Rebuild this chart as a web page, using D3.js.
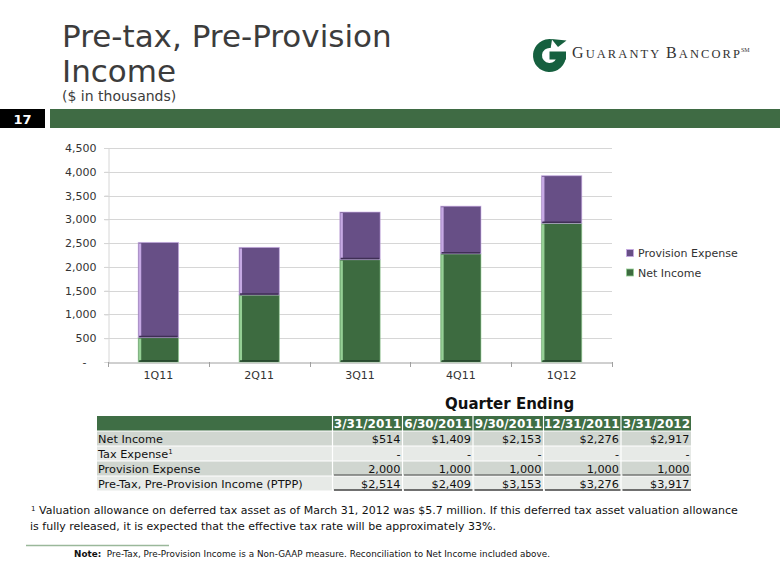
<!DOCTYPE html>
<html>
<head>
<meta charset="utf-8">
<script src="https://cdn.jsdelivr.net/npm/d3@7"></script>
<style>
  html, body { margin: 0; padding: 0; background: #fff; }
  svg { display: block; }
  text { font-family: "DejaVu Sans", Verdana, sans-serif; }
</style>
</head>
<body>
<svg id="chart" width="780" height="585"></svg>
<script>
// ---------------- DATA ----------------
const quarters = ["1Q11", "2Q11", "3Q11", "4Q11", "1Q12"];
const netIncome = [514, 1409, 2153, 2276, 2917];
const provisionExpense = [2000, 1000, 1000, 1000, 1000];
const taxExpense = [0, 0, 0, 0, 0];
const ptpp = [2514, 2409, 3153, 3276, 3917];
const seriesNames = ["Net Income", "Provision Expense"];
const yTicks = [0, 500, 1000, 1500, 2000, 2500, 3000, 3500, 4000, 4500];
const periodLabels = ["3/31/2011", "6/30/2011", "9/30/2011", "12/31/2011", "3/31/2012"];
const rowLabels = ["Net Income", "Tax Expense", "Provision Expense", "Pre-Tax, Pre-Provision Income (PTPP)"];

// ---------------- STYLE ----------------
const C = {
  title: "#3c3c3c",
  band: "#3f6b44",
  green: "#3d6b40", greenLight: "#95cf95", greenDark: "#23402a",
  purple: "#674f86", purpleLight: "#c6a9e4", purpleDark: "#3f2f55",
  grid: "#d6d6d6", axis: "#a0a0a0", text: "#333",
  rowDark: "#d0d6d0", rowLight: "#e7eae7", header: "#3f6e45"
};

const svg = d3.select("#chart");

// ---------------- HEADER ----------------
svg.append("text").attr("x", 62).attr("y", 47).attr("font-size", 31).attr("fill", C.title)
  .text("Pre-tax, Pre-Provision");
svg.append("text").attr("x", 62).attr("y", 82).attr("font-size", 31).attr("fill", C.title)
  .text("Income");
svg.append("text").attr("x", 62).attr("y", 101).attr("font-size", 14).attr("fill", C.title)
  .text("($ in thousands)");

svg.append("rect").attr("x", 0).attr("y", 109).attr("width", 45).attr("height", 19).attr("fill", "#000");
svg.append("text").attr("x", 22.5).attr("y", 123.5).attr("text-anchor", "middle")
  .attr("font-size", 13).attr("font-weight", "bold").attr("fill", "#fff").text("17");
svg.append("rect").attr("x", 50).attr("y", 109).attr("width", 730).attr("height", 19).attr("fill", C.band);

// Logo
const logo = svg.append("g").attr("transform", "translate(549.5,55.5)");
logo.append("path")
  .attr("d", d3.arc().innerRadius(7.5).outerRadius(16.5).startAngle(Math.PI * 0.5).endAngle(Math.PI * 2.05)())
  .attr("fill", "#16603f");
logo.append("rect").attr("x", 0).attr("y", -4).attr("width", 16.5).attr("height", 8).attr("fill", "#16603f");
logo.append("path").attr("d", "M2,-16.5 L17,-15 L8.5,-8.5 Z").attr("fill", "#16603f");
const lt = svg.append("text").attr("x", 572).attr("y", 58).attr("fill", "#333")
  .attr("textLength", 168).attr("lengthAdjust", "spacing")
  .style("font-family", "'Liberation Serif', 'DejaVu Serif', serif");
lt.append("tspan").attr("font-size", 16).text("G");
lt.append("tspan").attr("font-size", 12.5).text("UARANTY ");
lt.append("tspan").attr("font-size", 16).text("B");
lt.append("tspan").attr("font-size", 12.5).text("ANCORP");
svg.append("text").attr("x", 741).attr("y", 52).attr("font-size", 6).attr("fill", "#333")
  .style("font-family", "'Liberation Serif', 'DejaVu Serif', serif").text("SM");

// ---------------- CHART ----------------
const x = d3.scaleBand().domain(quarters).range([108, 612]).paddingInner(0.6).paddingOuter(0.3);
const y = d3.scaleLinear().domain([0, 4500]).range([362, 148]);

// gridlines
svg.append("g").selectAll("line").data(yTicks.filter(d => d > 0)).join("line")
  .attr("x1", 104).attr("x2", 612)
  .attr("y1", d => Math.round(y(d)) + 0.5).attr("y2", d => Math.round(y(d)) + 0.5)
  .attr("stroke", C.grid);

// y axis
const yAxis = svg.append("g").attr("transform", "translate(108.5,0)")
  .call(d3.axisLeft(y).tickValues(yTicks).tickSize(4).tickPadding(8)
    .tickFormat(d => d === 0 ? "-" : d3.format(",")(d)));
yAxis.select(".domain").attr("stroke", C.grid);
yAxis.selectAll(".tick line").attr("stroke", C.grid);
yAxis.selectAll(".tick text").attr("font-size", 11).attr("fill", C.text)
  .attr("font-family", "DejaVu Sans, Verdana, sans-serif");
yAxis.selectAll(".tick text").filter(d => d === 0).attr("dx", -10);

// x axis
const xAxis = svg.append("g").attr("transform", "translate(0,362.5)")
  .call(d3.axisBottom(x).tickSize(0).tickPadding(9));
xAxis.select(".domain").attr("stroke", C.axis);
xAxis.selectAll(".tick text").attr("font-size", 11).attr("fill", C.text)
  .attr("font-family", "DejaVu Sans, Verdana, sans-serif");
// boundary ticks between categories
const bounds = quarters.map(q => x(q) - x.step() * x.paddingInner() / 2 - (q === quarters[0] ? x.step() * (x.paddingOuter() - x.paddingInner() / 2) : 0));
bounds.push(612);
svg.append("g").selectAll("line").data(bounds).join("line")
  .attr("x1", d => Math.round(d) + 0.5).attr("x2", d => Math.round(d) + 0.5)
  .attr("y1", 362).attr("y2", 367).attr("stroke", C.axis);

// stacked bars
const table = quarters.map((q, i) => ({ q, "Net Income": netIncome[i], "Provision Expense": provisionExpense[i] }));
const stacked = d3.stack().keys(seriesNames)(table);
const fills = { "Net Income": [C.green, C.greenLight, C.greenDark], "Provision Expense": [C.purple, C.purpleLight, C.purpleDark] };

stacked.forEach(layer => {
  const [fill, light, dark] = fills[layer.key];
  const g = svg.append("g");
  g.selectAll("rect.main").data(layer).join("rect").attr("class", "main")
    .attr("x", d => x(d.data.q)).attr("width", x.bandwidth())
    .attr("y", d => y(d[1])).attr("height", d => y(d[0]) - y(d[1]))
    .attr("fill", fill).attr("stroke", light).attr("stroke-opacity", 0.6).attr("stroke-width", 1);
  g.selectAll("rect.hl").data(layer).join("rect").attr("class", "hl")
    .attr("x", d => x(d.data.q) + 0.5).attr("width", 2.5)
    .attr("y", d => y(d[1]) + 1).attr("height", d => y(d[0]) - y(d[1]) - 2)
    .attr("fill", light);
  g.selectAll("line.bt").data(layer).join("line").attr("class", "bt")
    .attr("x1", d => x(d.data.q) + 1).attr("x2", d => x(d.data.q) + x.bandwidth() - 1)
    .attr("y1", d => y(d[0]) - 1).attr("y2", d => y(d[0]) - 1)
    .attr("stroke", dark).attr("stroke-width", 1.5);
});

// legend
const legendOrder = ["Provision Expense", "Net Income"];
const lg = svg.append("g").selectAll("g").data(legendOrder).join("g")
  .attr("transform", (d, i) => `translate(630,${253 + i * 19.5})`);
lg.append("rect").attr("x", -3.5).attr("y", -3.5).attr("width", 7).attr("height", 7)
  .attr("fill", d => fills[d][0]).attr("stroke", d => fills[d][1]).attr("stroke-width", 0.8);
lg.append("text").attr("x", 8).attr("y", 4).attr("font-size", 11).attr("fill", C.text).text(d => d);

// ---------------- TABLE ----------------
svg.append("text").attr("x", 445).attr("y", 409).attr("font-size", 15).attr("font-weight", "bold")
  .attr("fill", "#111").text("Quarter Ending");

const colEdges = [97, 332, 402, 472.5, 543, 620.5, 691];
const fmt$ = v => "$" + d3.format(",")(v);
const rowsData = [
  netIncome.map(fmt$),
  taxExpense.map(v => v === 0 ? "-" : d3.format(",")(v)),
  provisionExpense.map(v => d3.format(",")(v)),
  ptpp.map(fmt$)
];

// header row
svg.append("rect").attr("x", colEdges[0]).attr("y", 416).attr("width", colEdges[6] - colEdges[0]).attr("height", 14.5)
  .attr("fill", C.header);
periodLabels.forEach((p, j) => {
  svg.append("text").attr("x", colEdges[j + 2] - 1).attr("y", 428).attr("text-anchor", "end")
    .attr("font-size", 12).attr("font-weight", "bold").attr("fill", "#fff").text(p);
});

const rowTop = i => 431.5 + i * 15;
rowLabels.forEach((lab, i) => {
  const bg = i % 2 === 0 ? C.rowDark : C.rowLight;
  svg.append("rect").attr("x", colEdges[0]).attr("y", rowTop(i)).attr("width", colEdges[6] - colEdges[0]).attr("height", 14)
    .attr("fill", bg);
  const t = svg.append("text").attr("x", 98).attr("y", rowTop(i) + 11.5).attr("font-size", 11.3).attr("fill", "#111");
  if (i === 1) {
    t.append("tspan").text("Tax Expense");
    t.append("tspan").attr("font-size", 7).attr("dy", -4).text("1");
  } else t.text(lab);
  rowsData[i].forEach((v, j) => {
    svg.append("text").attr("x", colEdges[j + 2] - 1.5).attr("y", rowTop(i) + 11.5).attr("text-anchor", "end")
      .attr("font-size", 11.3).attr("fill", "#111").text(v);
  });
});
// column separators (white)
svg.append("g").selectAll("line").data(colEdges.slice(1, 6)).join("line")
  .attr("x1", d => d + 0.5).attr("x2", d => d + 0.5).attr("y1", 416).attr("y2", 492)
  .attr("stroke", "#fff").attr("stroke-width", 1.2);
// underlines
[2, 3].forEach(i => {
  for (let j = 0; j < 5; j++) {
    svg.append("line").attr("x1", colEdges[j + 1] + 2).attr("x2", colEdges[j + 2])
      .attr("y1", rowTop(i) + 13.5).attr("y2", rowTop(i) + 13.5)
      .attr("stroke", "#444").attr("stroke-width", i === 3 ? 1.5 : 1);
  }
});

// ---------------- FOOTNOTES ----------------
const fn = svg.append("text").attr("x", 31).attr("y", 514).attr("font-size", 11).attr("fill", "#111");
fn.append("tspan").attr("font-size", 7).attr("dy", -3).text("1");
fn.append("tspan").attr("dy", 3).text(" Valuation allowance on deferred tax asset as of March 31, 2012 was $5.7 million. If this deferred tax asset valuation allowance");
svg.append("text").attr("x", 30).attr("y", 530).attr("font-size", 11).attr("fill", "#111")
  .text("is fully released, it is expected that the effective tax rate will be approximately 33%.");

svg.append("line").attr("x1", 26).attr("x2", 169).attr("y1", 545.5).attr("y2", 545.5)
  .attr("stroke", "#9ab89a").attr("stroke-width", 1.5);
const nt = svg.append("text").attr("x", 74).attr("y", 557).attr("font-size", 8.8).attr("fill", "#111")
  .attr("textLength", 476).attr("lengthAdjust", "spacing");
nt.append("tspan").attr("font-weight", "bold").text("Note:");
nt.append("tspan").text("\u00a0 Pre-Tax, Pre-Provision Income is a Non-GAAP measure. Reconciliation to Net Income included above.");
</script>
</body>
</html>
